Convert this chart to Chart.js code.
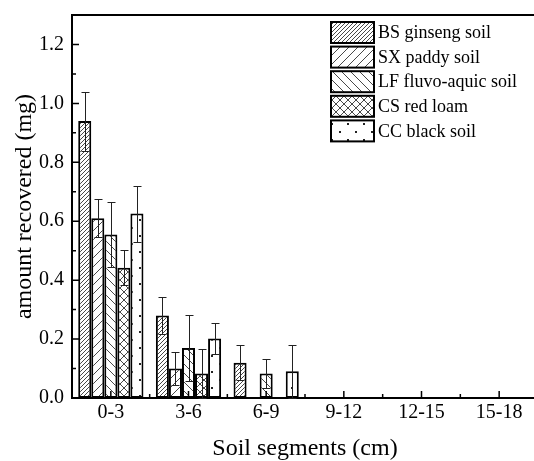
<!DOCTYPE html>
<html>
<head>
<meta charset="utf-8">
<script src="https://cdn.jsdelivr.net/npm/chart.js@4/dist/chart.umd.min.js"></script>
<style>
    html, body { margin: 0; padding: 0; overflow: hidden; background: #fff; }
    #wrap { width: 540px; height: 461px; }
</style>
</head>
<body>
<div id="wrap"><canvas id="chart"></canvas></div>
<script>
// soil segments and recovered amounts (mg)
const segments = ['0-3', '3-6', '6-9', '9-12', '12-15', '15-18'];
const soilNames = ['BS ginseng soil', 'SX paddy soil', 'LF fluvo-aquic soil', 'CS red loam', 'CC black soil'];

const bsValues = [0.94, 0.28, 0.12, null, null, null];
const sxValues = [0.61, 0.10, null, null, null, null];
const lfValues = [0.555, 0.17, 0.083, null, null, null];
const csValues = [0.442, 0.083, null, null, null, null];
const ccValues = [0.626, 0.202, 0.091, null, null, null];

const bsErrors = [0.10, 0.062, 0.06, null, null, null];
const sxErrors = [0.065, 0.057, null, null, null, null];
const lfErrors = [0.11, 0.113, 0.048, null, null, null];
const csErrors = [0.06, 0.083, null, null, null, null];
const ccErrors = [0.095, 0.054, 0.09, null, null, null];

const yTickValues = [0, 0.2, 0.4, 0.6, 0.8, 1.0, 1.2];

const FONT = "'Liberation Serif', 'Times New Roman', serif";

/**
 * Builds a repeating hatch pattern on a small tile
 * @param {string} kind 'fwd' | 'back' | 'cross' | 'dots'
 * @param {number} s tile size in px
 */
function makePattern(kind, s) {
    const c = document.createElement('canvas');
    c.width = s; c.height = s;
    const g = c.getContext('2d');
    g.fillStyle = '#fff';
    g.fillRect(0, 0, s, s);
    g.strokeStyle = '#333';
    g.fillStyle = '#222';
    g.lineWidth = 0.9;
    const fwd = () => {
        g.beginPath();
        g.moveTo(0, s); g.lineTo(s, 0);
        g.moveTo(-1, 1); g.lineTo(1, -1);
        g.moveTo(s - 1, s + 1); g.lineTo(s + 1, s - 1);
        g.stroke();
    };
    const back = () => {
        g.beginPath();
        g.moveTo(0, 0); g.lineTo(s, s);
        g.moveTo(-1, s - 1); g.lineTo(1, s + 1);
        g.moveTo(s - 1, -1); g.lineTo(s + 1, 1);
        g.stroke();
    };
    if (kind === 'fwd') fwd();
    if (kind === 'back') back();
    if (kind === 'cross') { fwd(); back(); }
    if (kind === 'dots') {
        g.fillRect(3, 3, 2, 2);
        g.fillRect(11, 11, 2, 2);
    }
    return g.createPattern(c, 'repeat');
}

const patterns = [
    makePattern('fwd', 4),
    makePattern('fwd', 9),
    makePattern('back', 9),
    makePattern('cross', 8),
    makePattern('dots', 16)
];

const seriesValues = [bsValues, sxValues, lfValues, csValues, ccValues];
const seriesErrors = [bsErrors, sxErrors, lfErrors, csErrors, ccErrors];

const datasets = soilNames.map((name, i) => ({
    label: name,
    data: seriesValues[i],
    errors: seriesErrors[i],
    backgroundColor: patterns[i],
    borderColor: '#000',
    borderWidth: 2,
    borderSkipped: false,
    categoryPercentage: 0.84,
    barPercentage: 1.0
}));

// error bars, axis tick marks, top frame line and the legend box
const decorPlugin = {
    id: 'decor',
    afterDatasetsDraw(chart) {
        const ctx = chart.ctx;
        const yScale = chart.scales.y;
        const xScale = chart.scales.x;
        const area = chart.chartArea;

        ctx.save();
        ctx.strokeStyle = '#222';
        ctx.lineWidth = 1;
        chart.data.datasets.forEach((ds, di) => {
            const meta = chart.getDatasetMeta(di);
            meta.data.forEach((bar, idx) => {
                const v = ds.data[idx];
                const e = ds.errors[idx];
                if (v === null || e === null) return;
                const x = Math.round(bar.x) + 0.5;
                const yTop = Math.round(yScale.getPixelForValue(v + e)) + 0.5;
                const yBot = Math.round(yScale.getPixelForValue(v - e)) + 0.5;
                ctx.beginPath();
                ctx.moveTo(x, yTop); ctx.lineTo(x, yBot);
                ctx.moveTo(x - 4, yTop); ctx.lineTo(x + 4, yTop);
                ctx.moveTo(x - 4, yBot); ctx.lineTo(x + 4, yBot);
                ctx.stroke();
            });
        });

        // inward ticks
        ctx.strokeStyle = '#000';
        ctx.lineWidth = 1.5;
        ctx.beginPath();
        yTickValues.forEach((v, i) => {
            const y = yScale.getPixelForValue(v);
            ctx.moveTo(area.left, y); ctx.lineTo(area.left + 7, y);
            const m = v + 0.1;
            const ym = yScale.getPixelForValue(m);
            ctx.moveTo(area.left, ym); ctx.lineTo(area.left + 4, ym);
        });
        const half = (xScale.getPixelForValue(1) - xScale.getPixelForValue(0)) / 2;
        segments.forEach((s, i) => {
            const x = xScale.getPixelForValue(i);
            ctx.moveTo(x, area.bottom); ctx.lineTo(x, area.bottom - 7);
            ctx.moveTo(x + half, area.bottom); ctx.lineTo(x + half, area.bottom - 4);
        });
        ctx.stroke();

        // top frame
        ctx.lineWidth = 2;
        ctx.beginPath();
        ctx.moveTo(area.left - 1, area.top); ctx.lineTo(area.right + 2, area.top);
        ctx.stroke();

        // legend
        const lx = 331, ly = 22, bw = 43, bh = 21, step = 24.6;
        ctx.font = '18px ' + FONT;
        ctx.textBaseline = 'middle';
        ctx.textAlign = 'left';
        chart.data.datasets.forEach((ds, i) => {
            const top = ly + i * step;
            ctx.fillStyle = ds.backgroundColor;
            ctx.fillRect(lx, top, bw, bh);
            ctx.strokeStyle = '#000';
            ctx.lineWidth = 2;
            ctx.strokeRect(lx, top, bw, bh);
            ctx.fillStyle = '#000';
            ctx.fillText(ds.label, lx + 47, top + bh / 2 + 1);
        });
        ctx.restore();
    }
};

new Chart(document.getElementById('chart'), {
    type: 'bar',
    data: { labels: segments, datasets: datasets },
    options: {
        responsive: true,
        maintainAspectRatio: false,
        animation: false,
        layout: { padding: { top: 15, right: 2, left: 0, bottom: 0 } },
        plugins: {
            legend: { display: false },
            tooltip: { enabled: false }
        },
        scales: {
            x: {
                grid: { display: false, drawTicks: false },
                border: { display: true, color: '#000', width: 2 },
                ticks: {
                    color: '#000',
                    font: { family: FONT, size: 20 },
                    padding: 3,
                    maxRotation: 0
                },
                title: {
                    display: true,
                    text: 'Soil segments (cm)',
                    color: '#000',
                    font: { family: FONT, size: 24, lineHeight: 1 },
                    padding: { top: 0, bottom: 0 }
                },
                afterFit: (scale) => {
                    scale.height = 63;
                    scale.paddingLeft = 0;
                    scale.paddingRight = 0;
                }
            },
            y: {
                min: 0,
                max: 1.3,
                grid: { display: false, drawTicks: false },
                border: { display: true, color: '#000', width: 2 },
                afterBuildTicks: (scale) => {
                    scale.ticks = yTickValues.map(v => ({ value: v }));
                },
                ticks: {
                    color: '#000',
                    font: { family: FONT, size: 20 },
                    padding: 8,
                    callback: (v) => Number(v).toFixed(1)
                },
                title: {
                    display: true,
                    text: 'amount recovered (mg)',
                    color: '#000',
                    font: { family: FONT, size: 24, lineHeight: 1 },
                    padding: { top: 13, bottom: 0 }
                },
                afterFit: (scale) => {
                    scale.width = 72;
                    scale.paddingTop = 0;
                    scale.paddingBottom = 0;
                }
            }
        }
    },
    plugins: [decorPlugin]
});
</script>
</body>
</html>
